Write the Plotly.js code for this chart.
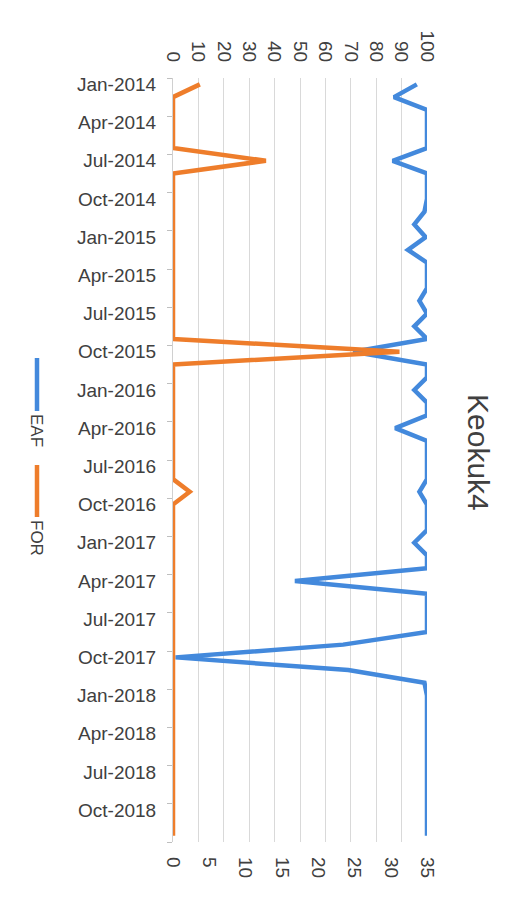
<!DOCTYPE html>
<html>
<head>
<meta charset="utf-8">
<script src="https://cdn.plot.ly/plotly-3.0.1.min.js"></script>
<style>
  html, body { margin: 0; padding: 0; background: #ffffff; }
  #chart { width: 529px; height: 898px; }
</style>
</head>
<body>
<div id="chart"></div>
<script>
// ---- data ----
const years = [2014, 2015, 2016, 2017, 2018];
const monthNames = ['Jan','Feb','Mar','Apr','May','Jun','Jul','Aug','Sep','Oct','Nov','Dec'];
const months = [];
years.forEach(y => monthNames.forEach(m => months.push(m + '-' + y)));

const eaf = [96, 87, 100, 100, 100, 100, 86.5, 100, 100, 100,
             99, 95, 99.5, 92.5, 100, 100, 100, 97, 100, 95,
             100, 71, 100, 100, 95, 100, 100, 87.5, 100, 100,
             100, 100, 97, 100, 100, 100, 95, 100, 100, 48,
             100, 100, 100, 100, 67, 1, 69, 99, 100, 100,
             100, 100, 100, 100, 100, 100, 100, 100, 100, 100];

const forate = [3.7, 0, 0, 0, 0, 0, 12.8, 0, 0, 0,
                0, 0, 0, 0, 0, 0, 0, 0, 0, 0,
                0, 31.2, 0, 0, 0, 0, 0, 0, 0, 0,
                0, 0, 2.3, 0, 0, 0, 0, 0, 0, 0,
                0, 0, 0, 0, 0, 0, 0, 0, 0, 0,
                0, 0, 0, 0, 0, 0, 0, 0, 0, 0];

const seriesNames = ['EAF', 'FOR'];
const titleText = 'Keokuk4';

// ---- derived (positions from the arrays) ----
const idx = months.map((m, i) => i);
const labelIdx = idx.filter(i => i % 3 === 0);
const labelText = labelIdx.map(i => months[i]);
const boundaryIdx = labelIdx.map(i => i - 0.5).concat([months.length - 0.5]);

const blue = '#4389DC';
const orange = '#EE7D2B';
const txt = '#404040';
const fontFam = 'Liberation Sans, Arial, sans-serif';

const traces = [
  { x: eaf, y: idx, xaxis: 'x', yaxis: 'y', type: 'scatter', mode: 'lines',
    name: seriesNames[0], line: { color: blue, width: 4.5, shape: 'linear' }, hoverinfo: 'skip' },
  { x: forate, y: idx, xaxis: 'x2', yaxis: 'y', type: 'scatter', mode: 'lines',
    name: seriesNames[1], line: { color: orange, width: 4.5, shape: 'linear' }, hoverinfo: 'skip' }
];

// plot area: x 173..427, y 78..842
const L = 173, R = 427, T = 78, B = 842;
const px = v => (v - L) / (R - L);
const py = v => (B - v) / (B - T);

const layout = {
  width: 529, height: 898,
  margin: { l: L, r: 529 - R, t: T, b: 898 - B, pad: 0 },
  paper_bgcolor: '#ffffff', plot_bgcolor: '#ffffff',
  showlegend: false,
  font: { family: fontFam, color: txt, size: 19 },
  xaxis: {
    side: 'top', range: [0, 100], tickmode: 'linear', tick0: 0, dtick: 10,
    showgrid: true, gridcolor: '#d9d9d9', gridwidth: 1,
    zeroline: false, showline: false, ticks: '', tickangle: 90,
    ticklabelstandoff: 12,
    tickfont: { size: 19, color: txt, family: fontFam }
  },
  xaxis2: {
    overlaying: 'x', side: 'bottom', anchor: 'y', range: [0, 35], tickmode: 'linear', tick0: 0, dtick: 5,
    showgrid: false, zeroline: false, showline: false, ticks: '', tickangle: 90,
    ticklabelstandoff: 14,
    tickfont: { size: 19, color: txt, family: fontFam }
  },
  yaxis: {
    range: [months.length - 0.5, -0.5],
    tickmode: 'array', tickvals: labelIdx, ticktext: labelText,
    ticks: '', showgrid: false, zeroline: false,
    showline: true, linecolor: '#d0d0d0', linewidth: 1,
    ticklabelstandoff: 12,
    tickfont: { size: 19, color: txt, family: fontFam },
    minor: { tickmode: 'array', tickvals: boundaryIdx, ticks: 'outside', ticklen: 5,
             tickcolor: '#bfbfbf', tickwidth: 1, showgrid: false }
  },
  annotations: [
    { text: titleText, xref: 'paper', yref: 'paper', x: px(479), y: py(452),
      xanchor: 'center', yanchor: 'middle', showarrow: false, textangle: 90,
      font: { size: 30, color: txt, family: fontFam } },
    { text: seriesNames[0], xref: 'paper', yref: 'paper', x: px(37), y: py(430),
      xanchor: 'center', yanchor: 'middle', showarrow: false, textangle: 90,
      font: { size: 17, color: txt, family: fontFam } },
    { text: seriesNames[1], xref: 'paper', yref: 'paper', x: px(37), y: py(538),
      xanchor: 'center', yanchor: 'middle', showarrow: false, textangle: 90,
      font: { size: 17, color: txt, family: fontFam } }
  ],
  shapes: [
    { type: 'line', xref: 'paper', yref: 'paper', x0: px(37), x1: px(37), y0: py(358), y1: py(411),
      line: { color: blue, width: 4.5 } },
    { type: 'line', xref: 'paper', yref: 'paper', x0: px(37), x1: px(37), y0: py(465), y1: py(517),
      line: { color: orange, width: 4.5 } }
  ]
};

Plotly.newPlot('chart', traces, layout, { staticPlot: true, displayModeBar: false });
</script>
</body>
</html>
